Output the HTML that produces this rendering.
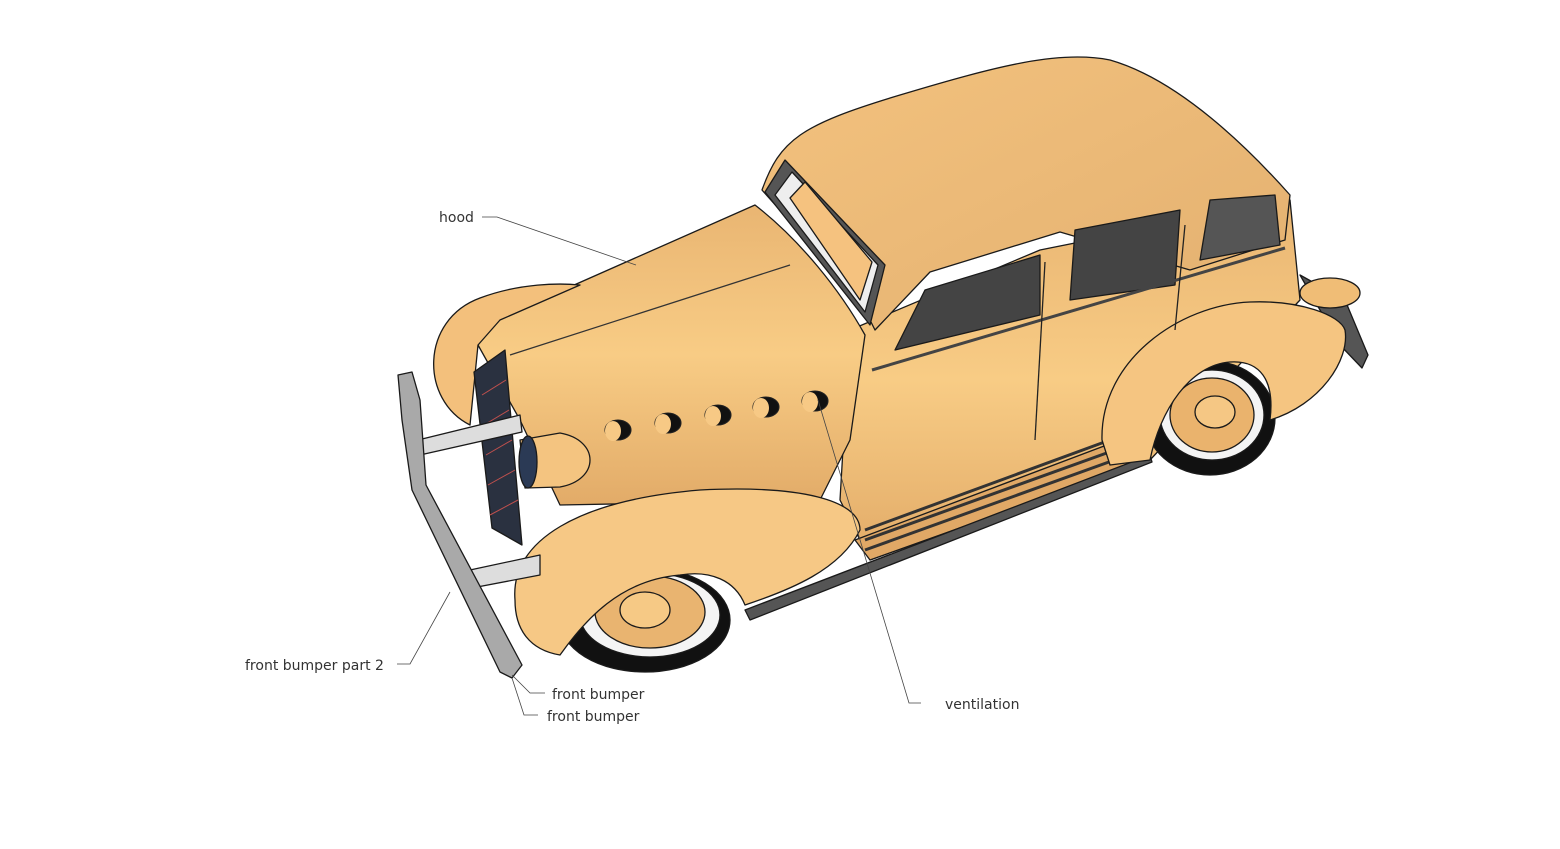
<!DOCTYPE html>
<html><head><style>
html,body{margin:0;padding:0;background:#fff;}
svg{display:block}
text{font-family:"DejaVu Sans","Liberation Sans",sans-serif;font-size:14px;fill:#333}
</style></head><body>
<svg width="1560" height="849" viewBox="0 0 1560 849" xmlns="http://www.w3.org/2000/svg">
<defs>
<linearGradient id="tan" x1="0" y1="0" x2="0" y2="1">
<stop offset="0" stop-color="#e9b572"/><stop offset="0.5" stop-color="#f8cc85"/><stop offset="1" stop-color="#e2ab68"/></linearGradient>
<linearGradient id="roof" x1="0" y1="0" x2="1" y2="1">
<stop offset="0" stop-color="#f3c27e"/><stop offset="1" stop-color="#e3b070"/></linearGradient>
</defs>
<g stroke="#1a1a1a" stroke-width="1.3" stroke-linejoin="round">
<!-- rear light -->
<path d="M1300,275 L1345,300 L1368,355 L1362,368 L1340,345 Z" fill="#555"/>
<ellipse cx="1330" cy="293" rx="30" ry="15" fill="#f0bd76"/>
<!-- body side -->
<path d="M850,330 L1040,250 L1290,200 L1300,300 L1150,460 L870,560 L840,500 Z" fill="url(#tan)"/>
<!-- running board -->
<path d="M855,540 L1120,440 L1150,460 L870,560 Z" fill="#e0a866"/>
<g stroke="#333" stroke-width="3"><line x1="865" y1="530" x2="1110" y2="440"/><line x1="865" y1="540" x2="1115" y2="450"/><line x1="865" y1="550" x2="1120" y2="458"/></g>
<path d="M745,610 L1150,455 L1152,462 L750,620 Z" fill="#555"/>
<!-- rear wheel -->
<ellipse cx="1210" cy="418" rx="65" ry="57" fill="#111"/>
<ellipse cx="1212" cy="415" rx="52" ry="45" fill="#f4f4f4"/>
<ellipse cx="1212" cy="415" rx="42" ry="37" fill="#eab36d"/>
<ellipse cx="1215" cy="412" rx="20" ry="16" fill="#f5c784"/>
<!-- rear fender -->
<path d="M1102,440 C1100,360 1180,305 1250,302 C1300,300 1340,315 1345,330 C1350,360 1320,405 1270,420 C1275,380 1260,360 1230,362 C1190,365 1160,410 1150,460 L1110,465 Z" fill="#f5c581"/>
<!-- roof -->
<path d="M762,190 C780,140 800,125 900,95 C1000,65 1060,50 1110,60 C1180,80 1250,150 1290,195 L1285,240 L1190,270 L1060,232 L930,272 L875,330 L860,300 Z" fill="url(#roof)"/>
<!-- windows -->
<path d="M765,192 L785,160 L885,265 L870,325 Z" fill="#555"/>
<path d="M775,195 L792,172 L878,265 L865,312 Z" fill="#eee"/>
<path d="M790,198 L805,182 L872,262 L860,300 Z" fill="#f5c27f"/>
<path d="M895,350 L925,290 L1040,255 L1040,315 Z" fill="#444"/>
<path d="M1070,300 L1075,230 L1180,210 L1175,285 Z" fill="#444"/>
<path d="M1200,260 L1210,200 L1275,195 L1280,245 Z" fill="#555"/>
<line x1="872" y1="370" x2="1285" y2="248" stroke="#444" stroke-width="3"/>
<line x1="1045" y1="262" x2="1035" y2="440" stroke="#222"/>
<line x1="1185" y1="225" x2="1175" y2="330" stroke="#222"/>
<!-- hood -->
<path d="M495,320 L755,205 C800,240 840,290 865,335 L850,440 L820,500 L560,505 L520,420 L478,345 Z" fill="url(#tan)"/>
<g stroke="#333"><path d="M510,355 L790,265" fill="none"/></g>
<g stroke="#222" stroke-width="1.1" fill="#111">
<ellipse cx="618" cy="430" rx="13" ry="10"/><ellipse cx="668" cy="423" rx="13" ry="10"/><ellipse cx="718" cy="415" rx="13" ry="10"/><ellipse cx="766" cy="407" rx="13" ry="10"/><ellipse cx="815" cy="401" rx="13" ry="10"/>
</g>
<g fill="#f7c985" stroke="none">
<ellipse cx="613" cy="431" rx="8" ry="10"/><ellipse cx="663" cy="424" rx="8" ry="10"/><ellipse cx="713" cy="416" rx="8" ry="10"/><ellipse cx="761" cy="408" rx="8" ry="10"/><ellipse cx="810" cy="402" rx="8" ry="10"/>
</g>
<!-- left front fender -->
<path d="M470,425 C420,400 420,320 480,298 C520,283 560,283 580,285 L500,320 L478,345 Z" fill="#f3c07c"/>
<!-- grille -->
<path d="M474,372 L505,350 L522,545 L492,528 Z" fill="#2a3140"/>
<g stroke="#c0504d" stroke-width="1"><line x1="482" y1="395" x2="506" y2="380"/><line x1="484" y1="425" x2="509" y2="410"/><line x1="486" y1="455" x2="512" y2="440"/><line x1="488" y1="485" x2="515" y2="470"/><line x1="490" y1="515" x2="518" y2="500"/></g>
<!-- headlight -->
<path d="M520,440 L560,433 C600,440 600,480 560,487 L525,488 Z" fill="#f4c480"/>
<ellipse cx="528" cy="462" rx="9" ry="26" fill="#2b3a55"/>
<!-- front wheel -->
<ellipse cx="645" cy="620" rx="85" ry="52" fill="#111"/>
<ellipse cx="650" cy="615" rx="70" ry="42" fill="#f4f4f4"/>
<ellipse cx="650" cy="612" rx="55" ry="36" fill="#e9b470"/>
<ellipse cx="645" cy="610" rx="25" ry="18" fill="#f6c985"/>
<!-- front fender -->
<path d="M515,600 C510,540 580,500 700,490 C800,485 860,500 860,530 C840,570 790,590 745,605 C735,580 710,570 680,575 C620,580 585,620 560,655 C530,650 515,630 515,600 Z" fill="#f6c885"/>
<!-- bumper struts -->
<path d="M418,440 L520,415 L522,432 L420,455 Z" fill="#ddd"/>
<path d="M470,570 L540,555 L540,575 L472,588 Z" fill="#ddd"/>
<!-- bumper -->
<path d="M398,375 L412,372 L420,400 L426,485 L522,665 L512,678 L500,672 L412,490 L402,420 Z" fill="#a9a9a9"/>
</g>
<!-- leaders -->
<g stroke="#444" stroke-width="0.8" fill="none">
<polyline points="482,217 497,217 636,265"/>
<polyline points="921,703 909,703 818,400"/>
<polyline points="397,664 410,664 450,592"/>
<polyline points="545,693 530,693 512,675"/>
<polyline points="538,715 524,715 512,678"/>
</g>
<text x="439" y="222">hood</text>
<text x="945" y="709">ventilation</text>
<text x="245" y="670">front bumper part 2</text>
<text x="552" y="699">front bumper</text>
<text x="547" y="721">front bumper</text>
</svg>
</body></html>
